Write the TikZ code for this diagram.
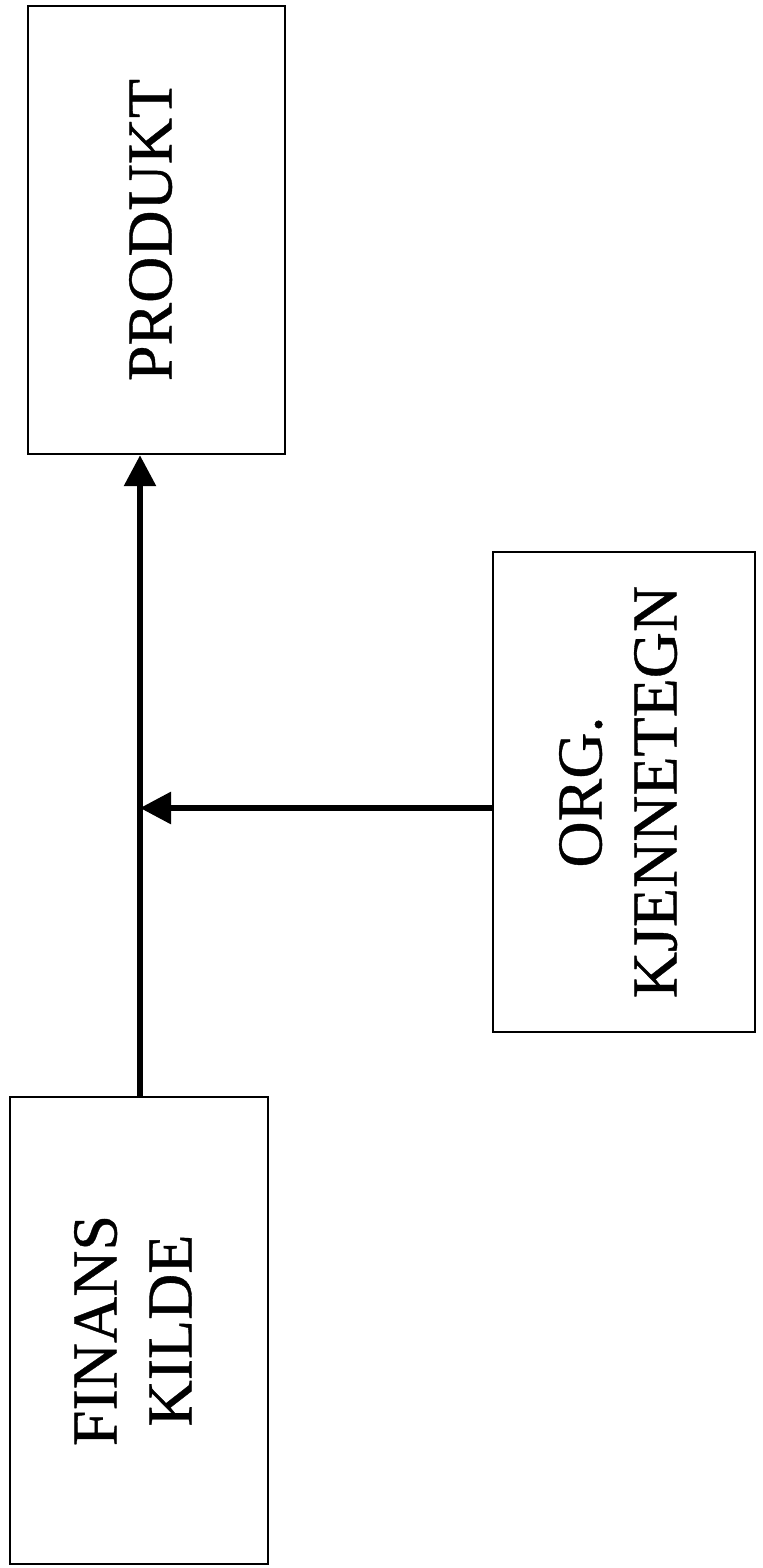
\documentclass[tikz,border=0pt]{standalone}
\usepackage{fontspec}
\setmainfont{Liberation Serif}
\newfontfamily\boxfont[FakeBold=0.6]{Liberation Serif}
\usetikzlibrary{arrows.meta}

\tikzset{
  block/.style={draw, line width=1.2pt, inner sep=0pt, font=\boxfont\fontsize{32}{37.5}\selectfont},
  flow/.style={line width=3pt, -{Triangle[length=15.5pt,width=15.5pt]}}
}
\newcommand{\vlabel}[1]{\rotatebox{90}{\begin{tabular}{@{}c@{}}#1\end{tabular}}}

\begin{document}
\begin{tikzpicture}[x=0.5pt,y=-0.5pt]
\useasboundingbox (0,0) rectangle (763,1568);
% boxes
\node[block, minimum width=128.5pt, minimum height=224pt] (produkt) at (156.5,230) {\vlabel{PRODUKT}};
\node[block, minimum width=131pt, minimum height=240pt] (org) at (624,792) {\vlabel{ORG.\\KJENNETEGN}};
\node[block, minimum width=129pt, minimum height=233.5pt] (finans) at (139,1330.5) {\vlabel{FINANS\\KILDE}};
% arrows
\coordinate (tee) at (140,808);
\draw[flow] (finans.north -| tee) -- (produkt.south -| tee);
\draw[flow] (org.west |- tee) -- (tee);
\end{tikzpicture}
\end{document}
